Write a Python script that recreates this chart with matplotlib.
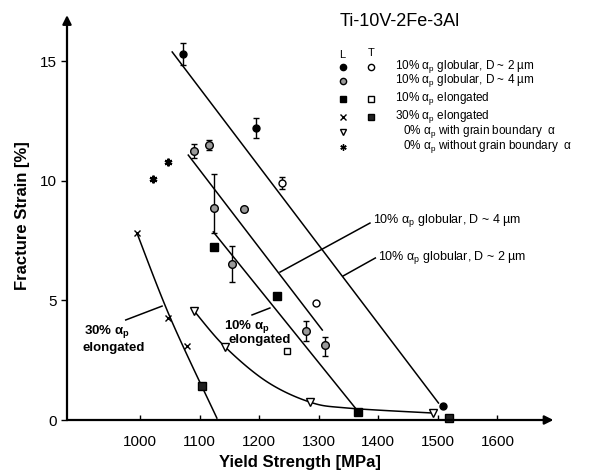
import numpy as np
import matplotlib
matplotlib.use("Agg")
import matplotlib.pyplot as plt

plt.rcParams["font.family"] = ["Liberation Sans", "DejaVu Sans"]
plt.rcParams["mathtext.fontset"] = "custom"
plt.rcParams["mathtext.rm"] = "Liberation Sans"
plt.rcParams["mathtext.it"] = "Liberation Sans:italic"
plt.rcParams["mathtext.bf"] = "Liberation Sans:bold"

# --- data (yield strength MPa, fracture strain %) ---
# 10% ap globular, D ~ 2 um, L (solid circles)
g2L_x = [1072, 1195, 1509]
g2L_y = [15.29, 12.2, 0.59]
g2L_err = [0.45, 0.4, 0.0]
# 10% ap globular, D ~ 2 um, T (open circles)
g2T_x = [1238, 1296]
g2T_y = [9.9, 4.89]
g2T_err = [0.25, 0.0]
# 10% ap globular, D ~ 4 um, L (dotted circles)
g4L_x = [1091, 1116, 1124, 1175, 1155, 1279, 1311]
g4L_y = [11.24, 11.5, 8.86, 8.82, 6.52, 3.72, 3.13]
g4L_lo = [0.3, 0.2, 1.05, 0.0, 0.75, 0.4, 0.45]
g4L_hi = [0.3, 0.2, 1.42, 0.0, 0.75, 0.4, 0.35]
# 10% ap elongated
e10L_x = [1124, 1230, 1366]
e10L_y = [7.23, 5.18, 0.33]
e10T_x = [1247]
e10T_y = [2.88]
# 30% ap elongated
e30L_x = [995, 1047, 1079]
e30L_y = [7.81, 4.26, 3.09]
e30T_x = [1104, 1519]
e30T_y = [1.42, 0.08]
# 0% ap with / without grain boundary alpha
gb_x = [1091, 1143, 1285, 1492]
gb_y = [4.55, 3.05, 0.75, 0.29]
nogb_x = [1022, 1047]
nogb_y = [10.07, 10.78]

# trend lines
lineA_x = [1054, 1501]; lineA_y = [15.38, 0.71]
lineB_x = [1081, 1306]; lineB_y = [11.07, 3.76]
lineC_x = [1123, 1364]; lineC_y = [7.86, 0.42]
curve30_x = [995, 1052, 1129]
curve30_y = [7.8, 4.2, 0.08]
curvegb_x = [1091, 1143, 1213, 1285, 1348, 1492]
curvegb_y = [4.55, 3.05, 1.6, 0.75, 0.5, 0.29]

xticks = [1000, 1100, 1200, 1300, 1400, 1500, 1600]
yticks = [0, 5, 10, 15]

W, H = 611, 475
fig = plt.figure(figsize=(W / 100, H / 100), dpi=100)
ax = fig.add_axes([67 / W, 1 - 420 / H, (560 - 67) / W, (420 - 12) / H])
X0, X1 = 877.4, 1705
ax.set_xlim(X0, X1)
ax.set_ylim(0, 17.05)
for s in ax.spines.values():
    s.set_visible(False)


def smooth(xs, ys, n=25):
    # Catmull-Rom through the knots, in roughly pixel-scaled space
    sx, sy = 0.5955, 23.93
    p = np.column_stack([np.array(xs) * sx, np.array(ys) * sy])
    p = np.vstack([p[0], p, p[-1]])
    out = []
    t = np.linspace(0, 1, n)[:, None]
    for i in range(1, len(p) - 2):
        p0, p1, p2, p3 = p[i - 1], p[i], p[i + 1], p[i + 2]
        seg = 0.5 * ((2 * p1) + (-p0 + p2) * t + (2 * p0 - 5 * p1 + 4 * p2 - p3) * t ** 2
                     + (-p0 + 3 * p1 - 3 * p2 + p3) * t ** 3)
        out.append(seg)
    out = np.vstack(out)
    return out[:, 0] / sx, out[:, 1] / sy


lk = dict(color="k", lw=1.1, clip_on=False)
ax.plot(lineA_x, lineA_y, **lk)
ax.plot(lineB_x, lineB_y, **lk)
ax.plot(lineC_x, lineC_y, **lk)
ax.plot(*smooth(curve30_x, curve30_y), **lk)
ax.plot(*smooth(curvegb_x, curvegb_y), **lk)

# axes with arrows
arr = dict(arrowstyle="-|>", color="k", lw=1.6, shrinkA=0, shrinkB=0, mutation_scale=13)
ax.annotate("", xy=(1694, 0), xytext=(X0, 0), arrowprops=arr, annotation_clip=False)
ax.annotate("", xy=(X0, 16.92), xytext=(X0, 0), arrowprops=arr, annotation_clip=False)

ek = dict(ecolor="k", elinewidth=1.0, capsize=2, capthick=1.0, ls="none", clip_on=False)
ax.errorbar(g2L_x, g2L_y, yerr=g2L_err, fmt="o", ms=5, mfc="k", mec="k", **ek)
ax.errorbar(g2T_x, g2T_y, yerr=g2T_err, fmt="o", ms=5, mfc="white", mec="k", mew=1.0, **ek)
ax.errorbar(g4L_x, g4L_y, yerr=[g4L_lo, g4L_hi], fmt="o", ms=5.5, mfc="#9a9a9a", mec="k",
            mew=1.0, **ek)
mk = dict(ls="none", clip_on=False)
ax.plot(e10L_x, e10L_y, "s", ms=5.5, mfc="k", mec="k", **mk)
ax.plot(e10T_x, e10T_y, "s", ms=5, mfc="white", mec="k", mew=1.0, **mk)
ax.plot(e30L_x, e30L_y, "x", ms=4, mec="k", mew=1.0, **mk)
ax.plot(e30T_x, e30T_y, "s", ms=5.5, mfc="#222", mec="k", **mk)
ax.plot(gb_x, gb_y, "v", ms=5.5, mfc="white", mec="k", mew=1.0, **mk)
ax.plot(nogb_x, nogb_y, marker=(6, 2, 0), ms=5.5, mec="k", mew=1.6, **mk)

ax.set_xticks(xticks)
ax.set_yticks(yticks)
ax.set_yticklabels(["0", "5", "10", "15"])
ax.tick_params(axis="x", direction="in", length=3.5, width=1.0, pad=11, labelsize=11)
ax.tick_params(axis="y", direction="out", length=4, width=1.0, pad=3, labelsize=11)

fig.text(300 / W, 1 - 462 / H, "Yield Strength [MPa]", ha="center", va="center",
         fontsize=12, fontweight="bold")
fig.text(23 / W, 1 - 216 / H, "Fracture Strain [%]", ha="center", va="center",
         rotation=90, fontsize=12, fontweight="bold")

# in-plot labels with leaders
sub = r"$_{\mathrm{p}}$"
ax.plot([1235, 1386], [6.18, 8.23], **lk)
ax.plot([1341, 1395], [6.02, 6.77], **lk)
ax.text(1391, 8.32, "10% α" + sub + " globular, D ~ 4 µm", ha="left", va="center", fontsize=9)
ax.text(1400, 6.81, "10% α" + sub + " globular, D ~ 2 µm", ha="left", va="center", fontsize=9)
ax.plot([976, 1037], [4.18, 4.76], **lk)
ax.text(945, 3.68, "30% α" + r"$_{\mathbf{p}}$", ha="center", va="center", fontsize=9.5,
        fontweight="bold")
ax.text(956, 3.0, "elongated", ha="center", va="center", fontsize=9.5, fontweight="bold")
ax.plot([1188, 1218], [4.39, 4.68], **lk)
ax.text(1180, 3.89, "10% α" + r"$_{\mathbf{p}}$", ha="center", va="center", fontsize=9.5,
        fontweight="bold")
ax.text(1201, 3.34, "elongated", ha="center", va="center", fontsize=9.5, fontweight="bold")


# title and legend (placed in pixel positions)
def fx(px):
    return px / W


def fy(py):
    return 1 - py / H


fig.text(fx(400), fy(22), "Ti-10V-2Fe-3Al", ha="center", va="center", fontsize=13)
fig.text(fx(342), fy(55), "L", ha="center", va="center", fontsize=8)
fig.text(fx(371), fy(53), "T", ha="center", va="center", fontsize=8)

legend_rows = [
    (66.7, ("o", "k", 4.5), ("o", "white", 4.5), "10% α" + sub + " globular, D ~ 2 µm", 395),
    (80.7, ("o", "#9a9a9a", 4.5), None, "10% α" + sub + " globular, D ~ 4 µm", 395),
    (99.0, ("s", "k", 4.5), ("s", "white", 4.5), "10% α" + sub + " elongated", 395),
    (116.7, ("x", "k", 4), ("s", "#222", 5), "30% α" + sub + " elongated", 395),
    (131.7, ("v", "white", 4.5), None, "0% α" + sub + " with grain boundary  α", 403),
    (146.7, ((6, 2, 0), "k", 4.5), None, "0% α" + sub + " without grain boundary  α", 403),
]
for ypx, lsym, tsym, label, xt in legend_rows:
    for xpx, sym in ((343, lsym), (371, tsym)):
        if sym is None:
            continue
        m, fc, ms = sym
        fig.add_artist(plt.Line2D([fx(xpx)], [fy(ypx)], marker=m, ms=ms, mfc=fc, mec="k",
                                  mew=1.0, ls="none", transform=fig.transFigure))
    fig.text(fx(xt), fy(ypx), label, ha="left", va="center", fontsize=8.5)

fig.savefig("out.png", dpi=100)
